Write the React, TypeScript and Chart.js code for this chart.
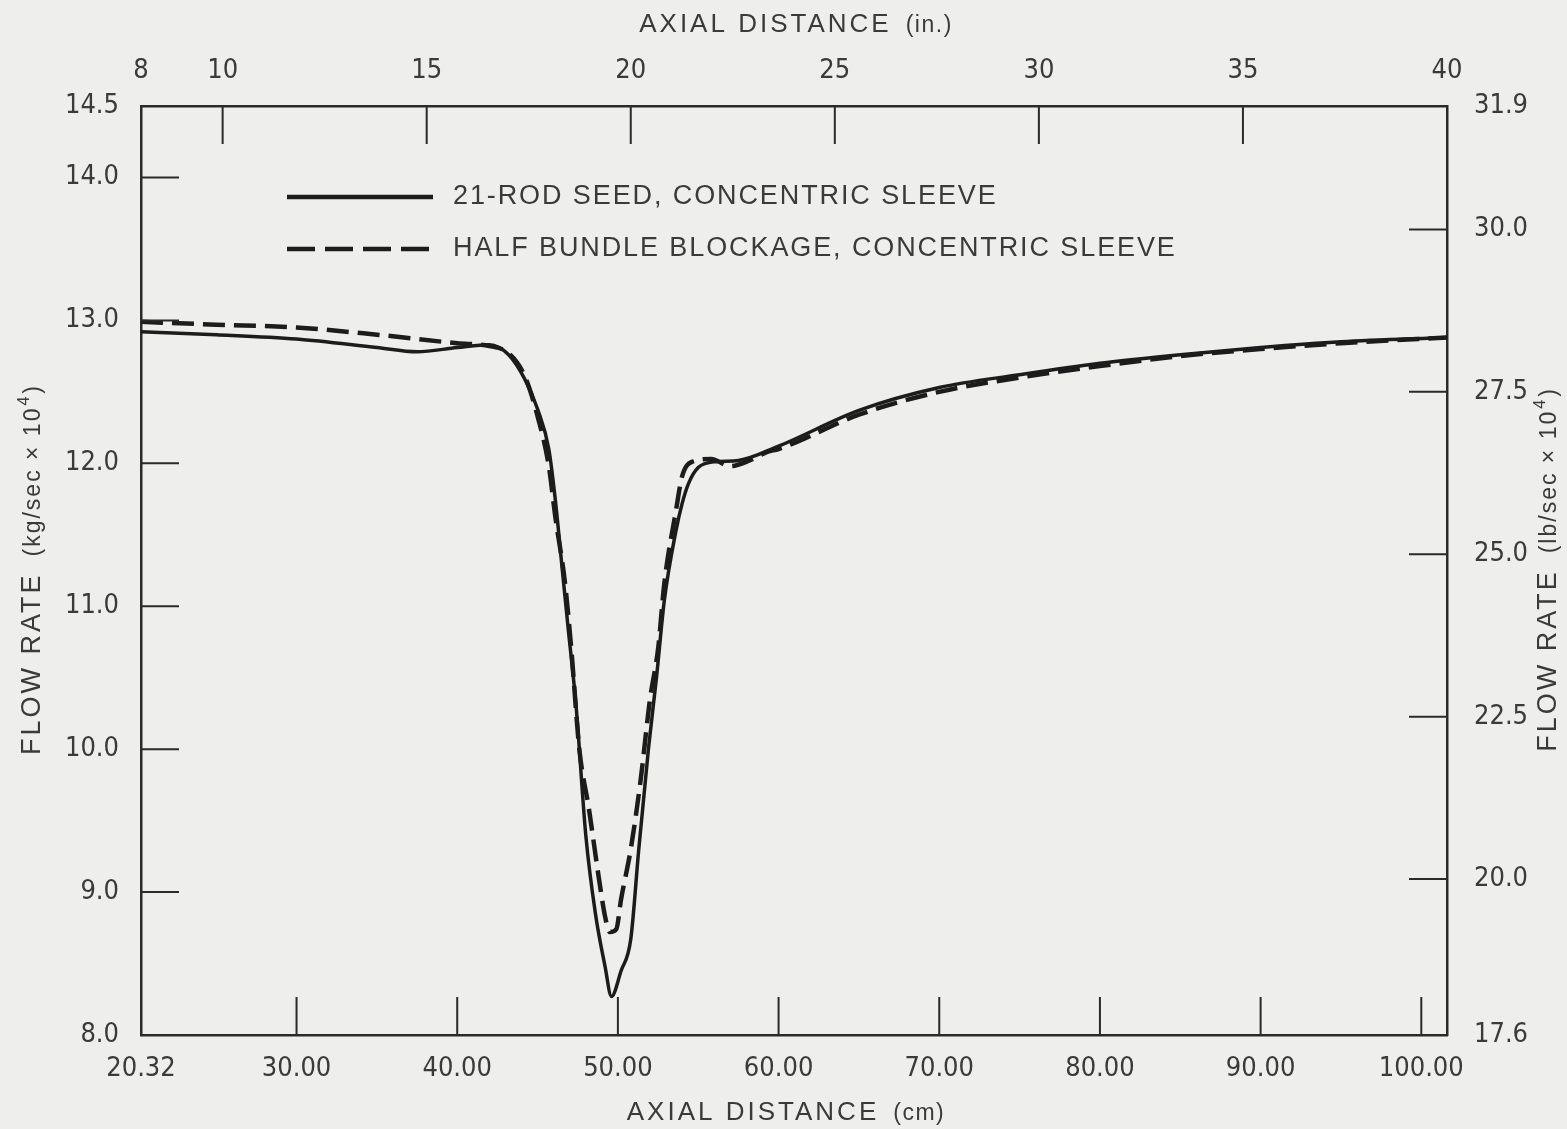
import React, { useEffect, useRef } from "react";
import { Chart, registerables } from "chart.js";

Chart.register(...registerables);

// ---- data (x in cm, y in kg/sec x 10^4) ----
const seedX = [20.32, 25, 30, 35, 37.5, 40, 42, 43.2, 44.2, 45.0, 45.7, 46.1, 46.5, 46.9, 47.4, 48.0, 48.6, 49.2, 49.6, 50.2, 50.8, 51.3, 51.9, 52.4, 52.9, 53.6, 54.0, 54.4, 55.0, 56.0, 57.5, 60, 65, 70, 75, 80, 85, 90, 95, 101.6];
const seedY = [12.92, 12.9, 12.87, 12.81, 12.78, 12.81, 12.83, 12.76, 12.59, 12.38, 12.1, 11.75, 11.3, 10.85, 10.3, 9.4, 8.85, 8.48, 8.27, 8.45, 8.67, 9.3, 10.0, 10.5, 11.05, 11.52, 11.72, 11.86, 11.97, 12.01, 12.02, 12.12, 12.37, 12.53, 12.62, 12.7, 12.76, 12.81, 12.85, 12.88];

const halfX = [20.32, 25, 30, 35, 40, 42, 43.2, 44.2, 45.0, 45.7, 46.1, 46.7, 47.1, 47.6, 48.2, 48.8, 49.2, 49.5, 49.9, 50.2, 50.8, 51.4, 52.0, 52.5, 52.9, 53.6, 54.0, 54.6, 55.8, 57.0, 58.2, 59.3, 60, 65, 70, 75, 80, 85, 90, 95, 101.6];
const halfY = [12.99, 12.97, 12.95, 12.9, 12.84, 12.82, 12.77, 12.61, 12.33, 11.98, 11.63, 11.17, 10.7, 10.0, 9.58, 9.11, 8.83, 8.72, 8.74, 8.95, 9.3, 9.77, 10.35, 10.7, 11.17, 11.66, 11.91, 12.01, 12.03, 11.98, 12.02, 12.08, 12.1, 12.34, 12.5, 12.6, 12.68, 12.75, 12.8, 12.84, 12.88];

const cmTicks = [20.32, 30, 40, 50, 60, 70, 80, 90, 100];
const inTicks = [8, 10, 15, 20, 25, 30, 35, 40];
const kgTicks = [8, 9, 10, 11, 12, 13, 14, 14.5];
const lbTicks = [17.6, 20, 22.5, 25, 27.5, 30, 31.9];

const seriesNames = ["21-ROD SEED, CONCENTRIC SLEEVE", "HALF BUNDLE BLOCKAGE, CONCENTRIC SLEEVE"];
const xTitleCm = ["AXIAL DISTANCE", "(cm)"];
const xTitleIn = ["AXIAL DISTANCE", "(in.)"];
const yTitleKg = ["FLOW RATE", "(kg/sec \u00d7 10", "4", ")"];
const yTitleLb = ["FLOW RATE", "(lb/sec \u00d7 10", "4", ")"];

const INK = "#1c1c1c";
const TEXT = "#3a3a3a";
const BG = "#eeeeec";
const NUM_FONT = '"Liberation Sans Narrow", "DejaVu Sans Condensed", "Liberation Sans", sans-serif';
const TXT_FONT = '"Liberation Sans", Arial, sans-serif';

type Seg = { t: string; size: number; sp: number; dy: number; gap: number };

function drawSegs(ctx: any, segs: Seg[], cx: number, cy: number, rot: number) {
  ctx.save();
  ctx.translate(cx, cy);
  ctx.rotate(rot);
  ctx.textBaseline = "alphabetic";
  ctx.textAlign = "left";
  const widths = segs.map((s) => {
    ctx.font = `${s.size}px ${TXT_FONT}`;
    ctx.letterSpacing = `${s.sp}px`;
    return ctx.measureText(s.t).width;
  });
  const total = widths.reduce((a, w, i) => a + w + segs[i].gap, 0);
  let x = -total / 2;
  segs.forEach((s, i) => {
    x += s.gap;
    ctx.font = `${s.size}px ${TXT_FONT}`;
    ctx.letterSpacing = `${s.sp}px`;
    ctx.fillText(s.t, x, 9 + s.dy);
    x += widths[i];
  });
  ctx.letterSpacing = "0px";
  ctx.restore();
}

function axisSegs(parts: string[]): Seg[] {
  return [
    { t: parts[0], size: 26, sp: 3, dy: 0, gap: 0 },
    { t: parts[1], size: 23, sp: 1.5, dy: 0, gap: 14 },
  ];
}
function flowSegs(parts: string[]): Seg[] {
  return [
    { t: parts[0], size: 27, sp: 3, dy: 0, gap: 0 },
    { t: parts[1], size: 23, sp: 2, dy: 0, gap: 16 },
    { t: parts[2], size: 16, sp: 0, dy: -11, gap: 1 },
    { t: parts[3], size: 23, sp: 0, dy: 0, gap: 3 },
  ];
}

const innerTicks = {
  id: "innerTicks",
  afterDraw(chart: any) {
    const { ctx, chartArea: a, scales } = chart;
    const L = 38;
    ctx.save();
    ctx.strokeStyle = "#2a2a2a";
    ctx.lineWidth = 2;
    ctx.beginPath();
    cmTicks.slice(1).forEach((v) => {
      const x = scales.x.getPixelForValue(v);
      ctx.moveTo(x, a.bottom);
      ctx.lineTo(x, a.bottom - L);
    });
    inTicks.slice(1, -1).forEach((v) => {
      const x = scales.xin.getPixelForValue(v);
      ctx.moveTo(x, a.top);
      ctx.lineTo(x, a.top + L);
    });
    kgTicks.slice(1, -1).forEach((v) => {
      const y = scales.y.getPixelForValue(v);
      ctx.moveTo(a.left, y);
      ctx.lineTo(a.left + L, y);
    });
    lbTicks.slice(1, -1).forEach((v) => {
      const y = scales.ylb.getPixelForValue(v);
      ctx.moveTo(a.right, y);
      ctx.lineTo(a.right - L, y);
    });
    ctx.stroke();

    // legend
    const lx = a.left + 146;
    const lw = 146;
    const rows = [a.top + 91, a.top + 143];
    ctx.strokeStyle = INK;
    ctx.lineWidth = 4.5;
    rows.forEach((ry, i) => {
      ctx.setLineDash(i === 0 ? [] : [28, 10]);
      ctx.beginPath();
      ctx.moveTo(lx, ry);
      ctx.lineTo(lx + lw, ry);
      ctx.stroke();
    });
    ctx.setLineDash([]);
    ctx.fillStyle = TEXT;
    ctx.font = `27px ${TXT_FONT}`;
    ctx.textBaseline = "middle";
    ctx.textAlign = "left";
    rows.forEach((ry, i) => {
      ctx.letterSpacing = "1.9px";
      ctx.fillText(seriesNames[i], lx + lw + 20, ry);
    });
    ctx.letterSpacing = "0px";

    // axis titles
    const midX = (a.left + a.right) / 2;
    const midY = (a.top + a.bottom) / 2;
    drawSegs(ctx, axisSegs(xTitleCm), midX - 8, chart.height - 18, 0);
    drawSegs(ctx, axisSegs(xTitleIn), midX + 2, 23, 0);
    drawSegs(ctx, flowSegs(yTitleKg), 31, midY, -Math.PI / 2);
    drawSegs(ctx, flowSegs(yTitleLb), chart.width - 20, midY, -Math.PI / 2);
    ctx.restore();
  },
};

export default function App() {
  const ref = useRef<HTMLCanvasElement | null>(null);

  useEffect(() => {
    document.body.style.margin = "0";
    document.body.style.background = BG;
    const canvas = ref.current!;
    const fix = (prop: "width" | "height", v: number) => (s: any) => {
      s[prop] = v;
    };
    const tickFont = { family: NUM_FONT, size: 27 };
    const border = { display: true, color: "#2a2a2a", width: 2.5 };
    const grid = { display: false, drawTicks: false };
    const chart = new Chart(canvas, {
      type: "line",
      data: {
        datasets: [
          {
            label: seriesNames[0],
            data: seedX.map((x, i) => ({ x, y: seedY[i] })),
            borderColor: INK,
            borderWidth: 3.5,
            pointRadius: 0,
            cubicInterpolationMode: "monotone",
            fill: false,
            xAxisID: "x",
            yAxisID: "y",
          },
          {
            label: seriesNames[1],
            data: halfX.map((x, i) => ({ x, y: halfY[i] })),
            borderColor: INK,
            borderWidth: 4.5,
            borderDash: [22, 9],
            pointRadius: 0,
            cubicInterpolationMode: "monotone",
            fill: false,
            xAxisID: "x",
            yAxisID: "y",
          },
        ],
      },
      options: {
        animation: false,
        responsive: true,
        maintainAspectRatio: false,
        layout: { padding: 0 },
        plugins: { legend: { display: false }, tooltip: { enabled: false } },
        scales: {
          x: {
            type: "linear",
            position: "bottom",
            min: 20.32,
            max: 101.6,
            afterBuildTicks: (s: any) => {
              s.ticks = cmTicks.map((v) => ({ value: v }));
            },
            afterFit: fix("height", 94),
            grid,
            border,
            ticks: {
              padding: 18,
              autoSkip: false,
              maxRotation: 0,
              color: TEXT,
              font: tickFont,
              callback: (v: any) => Number(v).toFixed(2),
            },
          },
          xin: {
            type: "linear",
            position: "top",
            min: 8,
            max: 40,
            afterBuildTicks: (s: any) => {
              s.ticks = inTicks.map((v) => ({ value: v }));
            },
            afterFit: fix("height", 106),
            grid,
            border,
            ticks: {
              padding: 19,
              autoSkip: false,
              maxRotation: 0,
              color: TEXT,
              font: tickFont,
              callback: (v: any) => String(v),
            },
          },
          y: {
            type: "linear",
            position: "left",
            min: 8,
            max: 14.5,
            afterBuildTicks: (s: any) => {
              s.ticks = kgTicks.map((v) => ({ value: v }));
            },
            afterFit: fix("width", 141),
            grid,
            border,
            ticks: {
              padding: 22,
              autoSkip: false,
              color: TEXT,
              font: tickFont,
              callback: (v: any) => Number(v).toFixed(1),
            },
          },
          ylb: {
            type: "linear",
            position: "right",
            min: 17.6,
            max: 31.9,
            afterBuildTicks: (s: any) => {
              s.ticks = lbTicks.map((v) => ({ value: v }));
            },
            afterFit: fix("width", 120),
            grid,
            border,
            ticks: {
              padding: 27,
              autoSkip: false,
              color: TEXT,
              font: tickFont,
              callback: (v: any) => Number(v).toFixed(1),
            },
          },
        },
      },
      plugins: [innerTicks],
    } as any);
    return () => chart.destroy();
  }, []);

  return (
    <div style={{ position: "absolute", left: 0, top: 0, width: 1567, height: 1129, background: BG }}>
      <canvas ref={ref} />
    </div>
  );
}
